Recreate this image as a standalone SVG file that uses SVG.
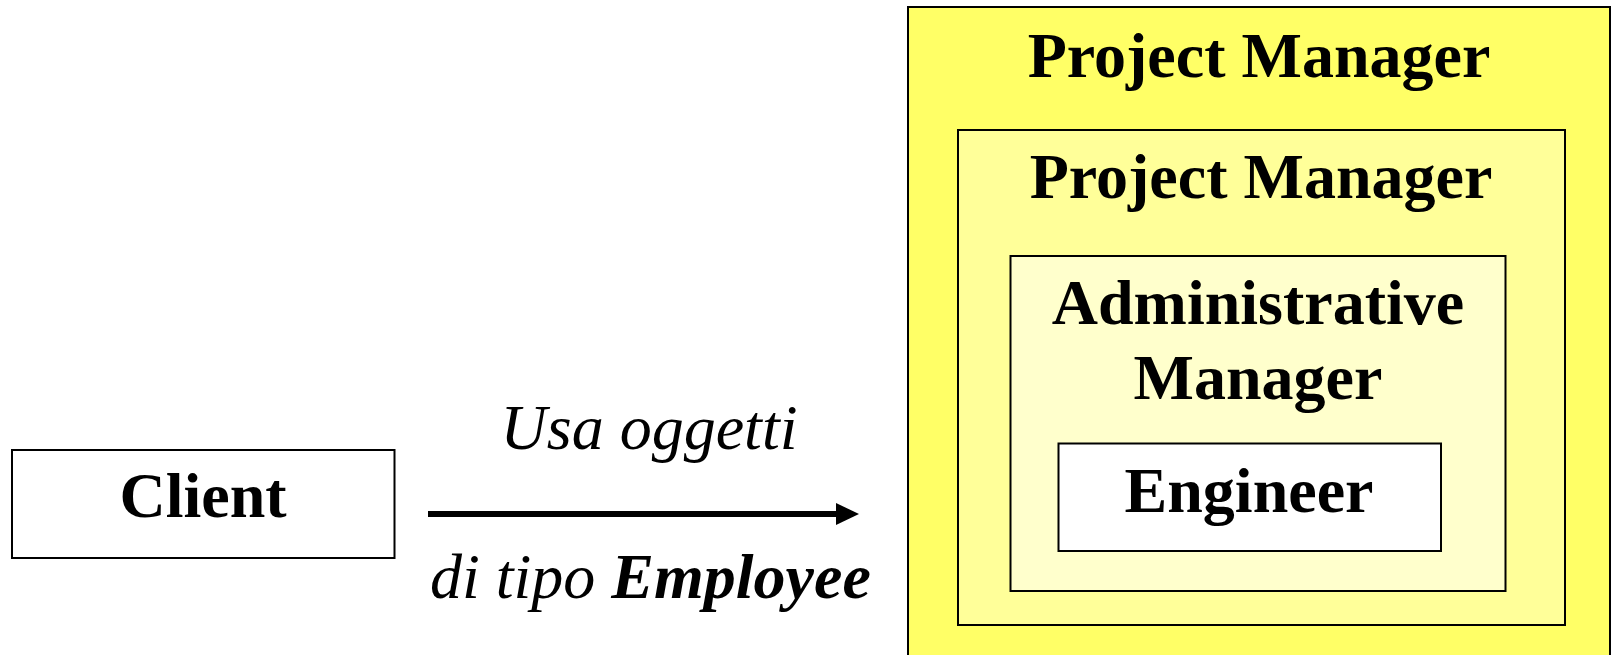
<svg xmlns="http://www.w3.org/2000/svg" width="1612" height="655" viewBox="0 0 1612 655">
  <defs>
    <style>
      .box { stroke: #000; stroke-width: 2; }
      .t { font-family: "Liberation Serif", "Times New Roman", serif; font-size: 64px; fill: #000; }
      .b { font-weight: bold; text-anchor: middle; }
      .i { font-style: italic; }
    </style>
    <marker id="arrow" markerWidth="23" markerHeight="22" refX="0" refY="11" orient="auto" markerUnits="userSpaceOnUse">
      <polygon points="0,0 23,11 0,22" fill="#000"/>
    </marker>
  </defs>
  <rect width="1612" height="655" fill="#fff"/>

  <g id="pm-outer">
    <rect class="box" x="908" y="7" width="702" height="700" fill="#FFFF66"/>
    <text class="t b" x="1259" y="77">Project Manager</text>
  </g>
  <g id="pm-inner">
    <rect class="box" x="958" y="130" width="607" height="495" fill="#FFFF99"/>
    <text class="t b" x="1261" y="198">Project Manager</text>
  </g>
  <g id="admin">
    <rect class="box" x="1010.5" y="256" width="495" height="335" fill="#FFFFCC"/>
    <text class="t b" x="1258" y="324">Administrative</text>
    <text class="t b" x="1258" y="399">Manager</text>
  </g>
  <g id="engineer">
    <rect class="box" x="1058.5" y="443.5" width="382.5" height="107.5" fill="#FFFFFF"/>
    <text class="t b" x="1249" y="512">Engineer</text>
  </g>
  <g id="client">
    <rect class="box" x="12" y="450" width="382.5" height="108" fill="#FFFFFF"/>
    <text class="t b" x="203" y="517">Client</text>
  </g>

  <g id="connectors">
    <line x1="428" y1="514" x2="836" y2="514" stroke="#000" stroke-width="6" marker-end="url(#arrow)"/>
    <text class="t i" x="649" y="449" text-anchor="middle">Usa oggetti</text>
    <text class="t i" x="430" y="598">di tipo <tspan font-weight="bold">Employee</tspan></text>
  </g>
</svg>
